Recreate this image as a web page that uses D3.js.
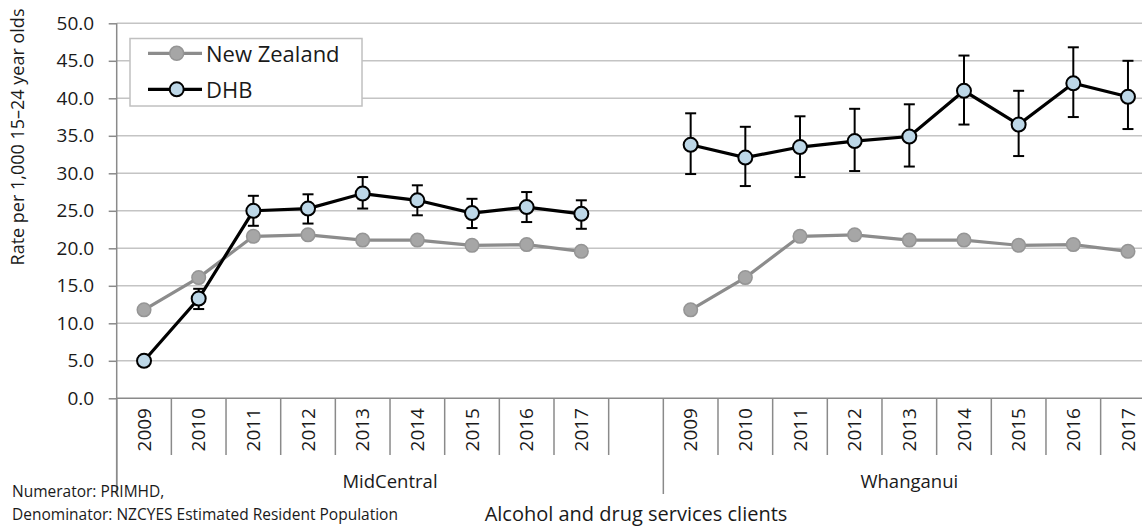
<!DOCTYPE html>
<html>
<head>
<meta charset="utf-8">
<script src="https://cdn.jsdelivr.net/npm/d3@7"></script>
<style>
  html, body { margin: 0; padding: 0; background: #fff; }
  svg { display: block; font-family: "Open Sans", "Noto Sans", sans-serif; }
</style>
</head>
<body>
<svg id="chart" width="1142" height="531"></svg>
<script>
// ---- data ----
const groups = ["MidCentral", "Whanganui"];
const years = ["2009", "2010", "2011", "2012", "2013", "2014", "2015", "2016", "2017"];
const yTicks = [0, 5, 10, 15, 20, 25, 30, 35, 40, 45, 50];
const seriesNames = ["New Zealand", "DHB"];

const nzMidCentral = [11.8, 16.1, 21.6, 21.8, 21.1, 21.1, 20.4, 20.5, 19.6];
const nzWhanganui = [11.8, 16.1, 21.6, 21.8, 21.1, 21.1, 20.4, 20.5, 19.6];

const dhbMidCentral = [5.0, 13.3, 25.0, 25.3, 27.3, 26.4, 24.7, 25.5, 24.6];
const dhbMidCentralLow = [4.4, 11.9, 23.0, 23.3, 25.3, 24.4, 22.7, 23.5, 22.6];
const dhbMidCentralHigh = [5.6, 14.6, 27.0, 27.2, 29.5, 28.4, 26.6, 27.5, 26.4];

const dhbWhanganui = [33.8, 32.1, 33.5, 34.3, 34.9, 41.0, 36.5, 42.0, 40.2];
const dhbWhanganuiLow = [29.9, 28.3, 29.5, 30.3, 30.9, 36.5, 32.3, 37.5, 35.9];
const dhbWhanganuiHigh = [38.0, 36.2, 37.6, 38.6, 39.2, 45.7, 41.0, 46.8, 45.0];

const yTitle = "Rate per 1,000 15–24 year olds";
const xTitle = "Alcohol and drug services clients";
const notes = ["Numerator: PRIMHD,", "Denominator: NZCYES Estimated Resident Population"];

(function () {
// ---- build tables ----
const slots = [];
groups.forEach((g, gi) => {
  years.forEach(y => slots.push(g + "|" + y));
  if (gi < groups.length - 1) slots.push("gap" + gi);
});
const nzData = { MidCentral: nzMidCentral, Whanganui: nzWhanganui };
const dhbData = {
  MidCentral: { v: dhbMidCentral, lo: dhbMidCentralLow, hi: dhbMidCentralHigh },
  Whanganui: { v: dhbWhanganui, lo: dhbWhanganuiLow, hi: dhbWhanganuiHigh }
};

// ---- layout ----
const svg = d3.select("#chart");
const pLeft = 116.7, pRight = 1155.3, pTop = 23.3, pBottom = 398.3;
const x = d3.scaleBand().domain(slots).range([pLeft, pRight]).padding(0);
const y = d3.scaleLinear().domain([0, 50]).range([pBottom, pTop]);
const cx = k => x(k) + x.bandwidth() / 2;

const axisColor = "#8a8a8a", gridColor = "#c4c4c4";

// gridlines
svg.append("g").selectAll("line").data(yTicks.filter(t => t > 0)).join("line")
  .attr("x1", pLeft).attr("x2", 1142)
  .attr("y1", d => y(d)).attr("y2", d => y(d))
  .attr("stroke", gridColor).attr("stroke-width", 1.6);

// y axis
const yAxis = d3.axisLeft(y).tickValues(yTicks).tickFormat(d3.format(".1f")).tickSize(8).tickPadding(14.5);
const yg = svg.append("g").attr("transform", `translate(${pLeft},0)`).call(yAxis);
yg.select(".domain").remove();
yg.selectAll(".tick line").attr("stroke", axisColor).attr("stroke-width", 1.5);
yg.selectAll(".tick text").attr("fill", "#1a1a1a").style("font-size", "19px")
  .style("font-family", "'Open Sans', sans-serif");
svg.append("line").attr("x1", pLeft).attr("x2", pLeft).attr("y1", pTop).attr("y2", 494)
  .attr("stroke", axisColor).attr("stroke-width", 1.5);

// x axis baseline
svg.append("line").attr("x1", pLeft).attr("x2", 1142).attr("y1", pBottom).attr("y2", pBottom)
  .attr("stroke", axisColor).attr("stroke-width", 1.5);

// category separators
const bounds = slots.map(s => x(s)).concat([pRight]);
const groupBounds = [pLeft, x("Whanganui|2009"), pRight];
svg.append("g").selectAll("line").data(bounds).join("line")
  .attr("x1", d => d).attr("x2", d => d)
  .attr("y1", pBottom).attr("y2", d => groupBounds.some(g => Math.abs(g - d) < 0.5) ? 494 : 455)
  .attr("stroke", axisColor).attr("stroke-width", 1.5);

// year labels
svg.append("g").selectAll("text").data(slots.filter(s => s.includes("|"))).join("text")
  .attr("transform", d => `translate(${cx(d)},408) rotate(-90)`)
  .attr("text-anchor", "end").attr("dy", "0.35em")
  .style("font-size", "19px").attr("fill", "#1a1a1a")
  .text(d => d.split("|")[1]);

// group labels
svg.append("g").selectAll("text").data(groups).join("text")
  .attr("x", (g, i) => (groupBounds[i] + groupBounds[i + 1]) / 2)
  .attr("y", 488).attr("text-anchor", "middle")
  .style("font-size", "18.5px").attr("fill", "#1a1a1a").text(d => d);

// axis titles
svg.append("text").attr("transform", "translate(24,137) rotate(-90)")
  .attr("text-anchor", "middle").style("font-size", "18px").attr("fill", "#1a1a1a").text(yTitle);
svg.append("text").attr("x", (pLeft + pRight) / 2).attr("y", 521).attr("text-anchor", "middle")
  .style("font-size", "20px").attr("fill", "#1a1a1a").text(xTitle);

// notes
svg.append("g").selectAll("text").data(notes).join("text")
  .attr("x", 12).attr("y", (d, i) => 497 + i * 23)
  .style("font-size", "15.5px").attr("fill", "#1a1a1a").text(d => d);

// ---- series ----
const line = d3.line().x(d => d.x).y(d => d.y);
const nzColor = "#8c8c8c", nzFill = "#a6a6a6", dhbFill = "#bdd7e7";

groups.forEach(g => {
  const nzPts = years.map((yr, i) => ({ x: cx(g + "|" + yr), y: y(nzData[g][i]) }));
  const d = dhbData[g];
  const dhbPts = years.map((yr, i) => ({
    x: cx(g + "|" + yr), y: y(d.v[i]), lo: y(d.lo[i]), hi: y(d.hi[i])
  }));

  // NZ line + markers
  svg.append("path").attr("d", line(nzPts)).attr("fill", "none")
    .attr("stroke", nzColor).attr("stroke-width", 3.2);
  svg.append("g").selectAll("circle").data(nzPts).join("circle")
    .attr("cx", p => p.x).attr("cy", p => p.y).attr("r", 6.8)
    .attr("fill", nzFill).attr("stroke", "#959595").attr("stroke-width", 1.5);

  // error bars
  const eb = svg.append("g").attr("stroke", "#000").attr("stroke-width", 2);
  eb.selectAll("line.v").data(dhbPts).join("line").attr("class", "v")
    .attr("x1", p => p.x).attr("x2", p => p.x).attr("y1", p => p.lo).attr("y2", p => p.hi);
  eb.selectAll("line.t").data(dhbPts).join("line").attr("class", "t")
    .attr("x1", p => p.x - 5.5).attr("x2", p => p.x + 5.5).attr("y1", p => p.hi).attr("y2", p => p.hi);
  eb.selectAll("line.b").data(dhbPts).join("line").attr("class", "b")
    .attr("x1", p => p.x - 5.5).attr("x2", p => p.x + 5.5).attr("y1", p => p.lo).attr("y2", p => p.lo);

  // DHB line + markers
  svg.append("path").attr("d", line(dhbPts)).attr("fill", "none")
    .attr("stroke", "#000").attr("stroke-width", 3.2);
  svg.append("g").selectAll("circle").data(dhbPts).join("circle")
    .attr("cx", p => p.x).attr("cy", p => p.y).attr("r", 7)
    .attr("fill", dhbFill).attr("stroke", "#000").attr("stroke-width", 2);
});

// ---- legend ----
const lg = svg.append("g");
lg.append("rect").attr("x", 130).attr("y", 38.5).attr("width", 232).attr("height", 67.5)
  .attr("fill", "#fff").attr("stroke", "#c0c0c0").attr("stroke-width", 1.5);
const legendItems = [
  { name: seriesNames[0], stroke: nzColor, fill: nzFill, mstroke: "#959595", mw: 1.5, yy: 53.3 },
  { name: seriesNames[1], stroke: "#000", fill: dhbFill, mstroke: "#000", mw: 2, yy: 89.3 }
];
legendItems.forEach(it => {
  lg.append("line").attr("x1", 148).attr("x2", 202).attr("y1", it.yy).attr("y2", it.yy)
    .attr("stroke", it.stroke).attr("stroke-width", 3.2);
  lg.append("circle").attr("cx", 176.7).attr("cy", it.yy).attr("r", 7)
    .attr("fill", it.fill).attr("stroke", it.mstroke).attr("stroke-width", it.mw);
  lg.append("text").attr("x", 206).attr("y", it.yy + 8.5)
    .style("font-size", "22px").attr("fill", "#1a1a1a").text(it.name);
});
})();
</script>
</body>
</html>
